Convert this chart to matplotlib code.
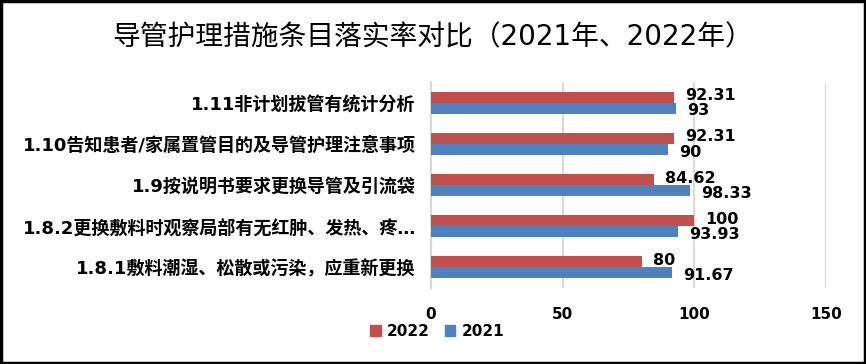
import matplotlib
matplotlib.use("Agg")
import matplotlib.pyplot as plt
from matplotlib.patches import Rectangle, Patch

plt.rcParams['font.family'] = ['DejaVu Sans', 'Noto Sans CJK SC']

categories = [
    "1.11非计划拔管有统计分析",
    "1.10告知患者/家属置管目的及导管护理注意事项",
    "1.9按说明书要求更换导管及引流袋",
    "1.8.2更换敷料时观察局部有无红肿、发热、疼…",
    "1.8.1敷料潮湿、松散或污染，应重新更换",
]
series_names = ["2022", "2021"]
values_2022 = [92.31, 92.31, 84.62, 100, 80]
values_2021 = [93, 90, 98.33, 93.93, 91.67]
label_2022 = ["92.31", "92.31", "84.62", "100", "80"]
label_2021 = ["93", "90", "98.33", "93.93", "91.67"]
xticks = [0, 50, 100, 150]

c22 = "#C0504D"
c21 = "#4F81BD"

fig = plt.figure(figsize=(8.66, 3.64), dpi=100)
ax = fig.add_axes([431/866, 1-288/364, (826-431)/866, (288-82)/364])

h = 0.268
ypos = list(range(len(categories)))
y22 = [y - h/2 for y in ypos]
y21 = [y + h/2 for y in ypos]
ax.barh(y22, values_2022, height=h, color=c22, zorder=3)
ax.barh(y21, values_2021, height=h, color=c21, zorder=3)

for y, v, t in zip(y22, values_2022, label_2022):
    ax.annotate(t, (v, y), xytext=(8, 1), textcoords="offset points",
                ha="left", va="center", fontsize=11.5, fontweight="bold", zorder=5)
for y, v, t in zip(y21, values_2021, label_2021):
    ax.annotate(t, (v, y), xytext=(8, -2), textcoords="offset points",
                ha="left", va="center", fontsize=11.5, fontweight="bold", zorder=5)

ax.set_xlim(0, 150)
ax.set_ylim(len(categories) - 0.5, -0.5)
ax.set_xticks(xticks)
ax.set_xticklabels([str(x) for x in xticks], fontsize=11, fontweight="bold")
ax.set_yticks(ypos)
ax.set_yticklabels(categories, fontsize=13, fontweight="bold")
ax.tick_params(axis="both", length=0)
ax.tick_params(axis="y", pad=11)
ax.tick_params(axis="x", pad=14)
ax.xaxis.grid(True, color="#D9D9D9", linewidth=1.5, zorder=0)
for s in ["top", "right", "bottom"]:
    ax.spines[s].set_visible(False)
ax.spines["left"].set_color("#D9D9D9")
ax.spines["left"].set_linewidth(1.5)

fig.text(433/866, 1-37/364, "导管护理措施条目落实率对比（2021年、2022年）",
         ha="center", va="center", fontsize=20,
         family=['DejaVu Sans', 'Noto Sans CJK SC'])

handles = [Patch(color=c22), Patch(color=c21)]
fig.legend(handles, series_names, loc="center", bbox_to_anchor=(437/866, 1-331/364),
           ncol=2, frameon=False, prop={"size": 11, "weight": "bold"},
           handlelength=0.7, handleheight=0.7, handletextpad=0.4, columnspacing=1.0)

fig.patches.append(Rectangle((0.0015, 0.003), 0.997, 0.994, transform=fig.transFigure,
                             fill=False, edgecolor="black", linewidth=2.5))

fig.savefig("out.png", dpi=100)
